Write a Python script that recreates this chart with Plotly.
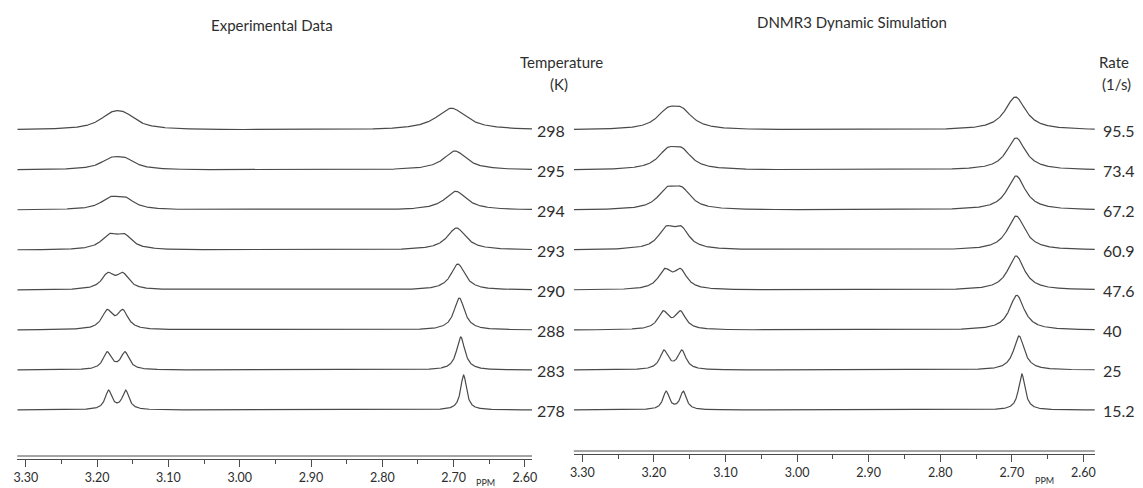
import numpy as np
import plotly.graph_objects as go

# ---- Experimental spectra (top to bottom) ----
temps_K = ["298", "295", "294", "293", "290", "288", "283", "278"]
# CH2 pair near 3.17 ppm: two component positions (ppm), component FWHM (ppm), peak height
exp_pair_a = [3.180, 3.181, 3.182, 3.183, 3.185, 3.186, 3.186, 3.184]
exp_pair_b = [3.162, 3.161, 3.161, 3.162, 3.164, 3.164, 3.161, 3.160]
exp_pair_w = [0.042, 0.035, 0.032, 0.027, 0.021, 0.018, 0.014, 0.0115]
exp_pair_h = [19.3, 13.3, 13.7, 16.7, 17.7, 20.6, 18.3, 20.0]
# single line near 2.69 ppm: position, FWHM, height
exp_sing_p = [2.703, 2.698, 2.697, 2.696, 2.694, 2.692, 2.690, 2.686]
exp_sing_w = [0.051, 0.039, 0.037, 0.032, 0.024, 0.018, 0.014, 0.010]
exp_sing_h = [21.7, 19.0, 18.7, 22.0, 26.0, 32.0, 33.0, 35.0]

# ---- DNMR3 simulated spectra (top to bottom) ----
rates = ["95.5", "73.4", "67.2", "60.9", "47.6", "40", "25", "15.2"]
sim_pair_a = [3.181, 3.181, 3.182, 3.183, 3.185, 3.187, 3.186, 3.183]
sim_pair_b = [3.161, 3.161, 3.161, 3.162, 3.163, 3.163, 3.161, 3.159]
sim_pair_w = [0.036, 0.033, 0.031, 0.027, 0.022, 0.018, 0.014, 0.0105]
sim_pair_h = [24.0, 23.5, 24.0, 24.5, 21.7, 19.3, 20.0, 19.0]
sim_sing_p = [2.695, 2.694, 2.694, 2.694, 2.694, 2.693, 2.690, 2.686]
sim_sing_w = [0.035, 0.032, 0.031, 0.030, 0.028, 0.025, 0.018, 0.011]
sim_sing_h = [33.0, 32.0, 34.0, 34.0, 34.0, 34.7, 34.0, 36.0]

W, H = 1143, 488
LINE = "#4a4a4a"
TEXT = "#2e2e2e"
FONT = "Lato"
STEP = 40  # vertical offset between stacked spectra


def lorentz(x, x0, fwhm):
    g = fwhm / 2.0
    return 1.0 / (1.0 + ((x - x0) / g) ** 2)


def spectrum(x, pa, pb, pw, ph, sp, sw, sh):
    pair = lorentz(x, pa, pw) + lorentz(x, pb, pw)
    pair = pair / pair.max() * ph
    return pair + lorentz(x, sp, sw) * sh


fig = go.Figure()

panels = [
    dict(xa="x", rng=[3.312, 2.59], labels=temps_K,
         pa=exp_pair_a, pb=exp_pair_b, pw=exp_pair_w, ph=exp_pair_h,
         sp=exp_sing_p, sw=exp_sing_w, sh=exp_sing_h),
    dict(xa="x2", rng=[3.312, 2.584], labels=rates,
         pa=sim_pair_a, pb=sim_pair_b, pw=sim_pair_w, ph=sim_pair_h,
         sp=sim_sing_p, sw=sim_sing_w, sh=sim_sing_h),
]

n = len(temps_K)
for p in panels:
    x = np.linspace(p["rng"][0], p["rng"][1], 2000)
    for i in range(n):
        off = (n - 1 - i) * STEP
        y = off + spectrum(x, p["pa"][i], p["pb"][i], p["pw"][i], p["ph"][i],
                           p["sp"][i], p["sw"][i], p["sh"][i])
        fig.add_trace(go.Scatter(x=x, y=y, xaxis=p["xa"], yaxis="y", mode="lines",
                                 line=dict(color=LINE, width=1.2),
                                 hoverinfo="skip", showlegend=False))

# stack labels
for i in range(n):
    off = (n - 1 - i) * STEP
    fig.add_annotation(x=551 / W, xref="paper", y=off, yref="y", text=temps_K[i],
                       showarrow=False, xanchor="center", yanchor="middle",
                       font=dict(family=FONT, size=16, color=TEXT))
    fig.add_annotation(x=1106 / W, xref="paper", y=off, yref="y", text=rates[i],
                       showarrow=False, xanchor="left", yanchor="middle",
                       font=dict(family=FONT, size=16, color=TEXT))

# headings
def note(xp, yp, txt, size, anchor="center"):
    fig.add_annotation(x=xp / W, y=1 - yp / H, xref="paper", yref="paper", text=txt,
                       showarrow=False, xanchor=anchor, yanchor="middle",
                       font=dict(family=FONT, size=size, color=TEXT))

note(270, 25, "Experimental Data", 15)
note(855, 22, "DNMR3 Dynamic Simulation", 15)
note(562, 62, "Temperature", 15)
note(559, 84, "(K)", 15)
note(1119, 62, "Rate", 15)
note(1121, 84, "(1/s)", 15)

# ppm scales with a doubled rule
axis_style = dict(showgrid=False, zeroline=False, showline=True, linecolor=LINE,
                  linewidth=1, ticks="outside", ticklen=7, tickwidth=1, tickcolor=LINE,
                  tickmode="linear", tick0=2.6, dtick=0.1, tickformat=".2f",
                  minor=dict(ticks="outside", dtick=0.05, ticklen=4, tickcolor=LINE),
                  tickfont=dict(family=FONT, size=12.5, color=TEXT),
                  anchor="free", fixedrange=True)

ax_left_y, ax_right_y = 459, 454
fig.update_layout(
    width=W, height=H, margin=dict(l=0, r=0, t=0, b=0),
    paper_bgcolor="white", plot_bgcolor="white", showlegend=False,
    xaxis=dict(domain=[13.4 / W, 532.2 / W], range=[3.312, 2.59],
               position=(H - ax_left_y) / H, **axis_style),
    xaxis2=dict(domain=[574.3 / W, 1099.5 / W], range=[3.312, 2.584],
                position=(H - ax_right_y) / H, **axis_style),
    yaxis=dict(range=[410 - H, 410], domain=[0, 1], visible=False, fixedrange=True),
)

for xa, yy in (("x", ax_left_y - 3), ("x2", ax_right_y - 3)):
    fig.add_shape(type="line", xref=f"{xa} domain", yref="paper", x0=0, x1=1,
                  y0=(H - yy) / H, y1=(H - yy) / H, line=dict(color=LINE, width=1))

fig.add_annotation(x=2.655, xref="x", y=1 - 482 / H, yref="paper", text="PPM",
                   showarrow=False, yanchor="middle",
                   font=dict(family=FONT, size=9, color=TEXT))
fig.add_annotation(x=2.655, xref="x2", y=1 - 480 / H, yref="paper", text="PPM",
                   showarrow=False, yanchor="middle",
                   font=dict(family=FONT, size=9, color=TEXT))

fig.write_html("out.html")
